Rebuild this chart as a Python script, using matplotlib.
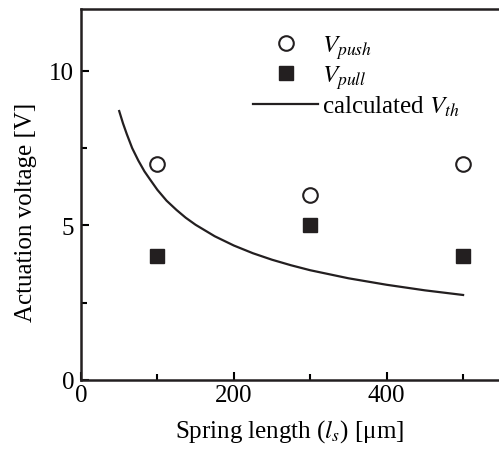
import matplotlib
matplotlib.use("Agg")
import matplotlib.pyplot as plt

plt.rcParams["font.family"] = ["Liberation Serif", "DejaVu Serif"]
plt.rcParams["mathtext.fontset"] = "stix"

# measured points
spring_len = [100, 300, 500]
v_push = [7, 6, 7]
v_pull = [4, 5, 4]

# calculated threshold
calc_len = [50, 55, 60, 67, 75, 83, 90, 100, 112, 125, 137, 150, 175, 200,
            225, 250, 275, 300, 350, 400, 450, 500]
calc_vth = [8.7, 8.3, 7.95, 7.5, 7.1, 6.75, 6.5, 6.15, 5.8, 5.5, 5.25, 5.02,
            4.65, 4.35, 4.1, 3.89, 3.71, 3.55, 3.29, 3.08, 2.9, 2.75]

fig = plt.figure(figsize=(4.99, 4.56), dpi=100)
ax = fig.add_axes([0.1623, 0.1645, 0.8377, 0.8135])

ax.plot(spring_len, v_push, "o", ms=10.5, mfc="white", mec="#231f20", mew=1.5,
        ls="none", label="$V_{push}$")
ax.plot(spring_len, v_pull, "s", ms=10, color="#231f20",
        ls="none", label="$V_{pull}$")
ax.plot(calc_len, calc_vth, "-", color="#231f20", lw=1.6, label="calculated $V_{th}$")

ax.set_xlim(0, 547)
ax.set_ylim(0, 12)
ax.set_xticks([0, 200, 400])
ax.set_xticks([100, 300, 500], minor=True)
ax.set_yticks([0, 5, 10])
ax.set_yticks([2.5, 7.5], minor=True)
ax.tick_params(which="both", direction="in", width=1.5, labelsize=18)
ax.tick_params(axis="x", pad=3)
ax.tick_params(axis="y", pad=5)
ax.tick_params(which="major", length=6)
ax.tick_params(which="minor", length=4)
for s in ["left", "bottom", "top"]:
    ax.spines[s].set_linewidth(1.8)
    ax.spines[s].set_color("#231f20")
ax.spines["right"].set_visible(False)

ax.set_xlabel("Spring length ($l_s$) [μm]", fontsize=18, labelpad=8)
ax.set_ylabel("Actuation voltage [V]", fontsize=18)
ax.yaxis.set_label_coords(-0.105, 0.455)

ax.legend(loc="upper left", bbox_to_anchor=(253 / 499, 1 - 34 / 456),
          bbox_transform=fig.transFigure, frameon=False,
          fontsize=18, handlelength=2.6, handletextpad=0.15, labelspacing=0.1,
          borderaxespad=0, borderpad=0)

fig.savefig("out.png", dpi=100)
